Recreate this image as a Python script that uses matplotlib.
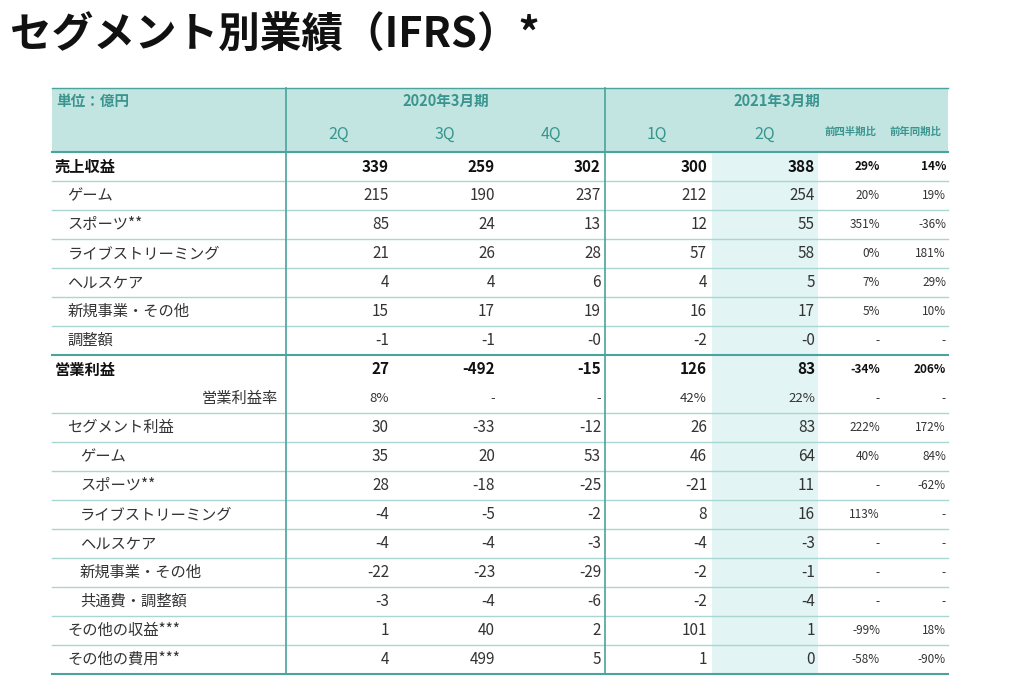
import matplotlib.pyplot as plt
from matplotlib.patches import Rectangle

plt.rcParams["font.family"] = "Noto Sans CJK JP"

title = "セグメント別業績（IFRS）*"
unit = "単位：億円"
periods = ["2020年3月期", "2021年3月期"]
quarters = ["2Q", "3Q", "4Q", "1Q", "2Q"]
ratio_heads = ["前四半期比", "前年同期比"]

labels = ["売上収益", "ゲーム", "スポーツ**", "ライブストリーミング", "ヘルスケア", "新規事業・その他", "調整額",
          "営業利益", "営業利益率", "セグメント利益", "ゲーム", "スポーツ**", "ライブストリーミング",
          "ヘルスケア", "新規事業・その他", "共通費・調整額", "その他の収益***", "その他の費用***"]
indent = [0, 1, 1, 1, 1, 1, 1, 0, -1, 1, 2, 2, 2, 2, 2, 2, 1, 1]
bold = [True] + [False] * 6 + [True] + [False] * 10

values = [
    ["339", "259", "302", "300", "388"],
    ["215", "190", "237", "212", "254"],
    ["85", "24", "13", "12", "55"],
    ["21", "26", "28", "57", "58"],
    ["4", "4", "6", "4", "5"],
    ["15", "17", "19", "16", "17"],
    ["-1", "-1", "-0", "-2", "-0"],
    ["27", "-492", "-15", "126", "83"],
    ["8%", "-", "-", "42%", "22%"],
    ["30", "-33", "-12", "26", "83"],
    ["35", "20", "53", "46", "64"],
    ["28", "-18", "-25", "-21", "11"],
    ["-4", "-5", "-2", "8", "16"],
    ["-4", "-4", "-3", "-4", "-3"],
    ["-22", "-23", "-29", "-2", "-1"],
    ["-3", "-4", "-6", "-2", "-4"],
    ["1", "40", "2", "101", "1"],
    ["4", "499", "5", "1", "0"],
]
qoq = ["29%", "20%", "351%", "0%", "7%", "5%", "-", "-34%", "-", "222%", "40%", "-", "113%", "-", "-", "-", "-99%", "-58%"]
yoy = ["14%", "19%", "-36%", "181%", "29%", "10%", "-", "206%", "-", "172%", "84%", "-62%", "-", "-", "-", "-", "18%", "-90%"]

fig = plt.figure(figsize=(10.17, 6.87), dpi=100)
ax = fig.add_axes([0, 0, 1, 1])
ax.set_xlim(0, 1017)
ax.set_ylim(687, 0)
ax.axis("off")

teal = "#4aa39d"
head_txt = "#3a958f"
line_c = "#a9d6d2"
dark = "#333333"

ax.text(10, 36, title, fontsize=30, fontweight="bold", va="center", ha="left", color="#111111")

# header block
ax.add_patch(Rectangle((52, 88), 896, 63, color="#c2e5e2", lw=0))
x0, x1 = 52, 948
row_h = 29
top = 152
# highlighted column
ax.add_patch(Rectangle((712, top), 106, row_h * len(labels), color="#e2f4f3", lw=0))

ax.plot([x0, x1], [88, 88], color=teal, lw=1)
ax.text(56, 101, unit, fontsize=10.5, fontweight="bold", color=head_txt, va="center")
ax.text(446, 101, periods[0], fontsize=10.5, fontweight="bold", color=head_txt, va="center", ha="center")
ax.text(777, 101, periods[1], fontsize=10.5, fontweight="bold", color=head_txt, va="center", ha="center")
qx = [339, 445, 551, 657, 765]
for x, q in zip(qx, quarters):
    ax.text(x, 134, q, fontsize=11.5, color=head_txt, va="center", ha="center")
ax.text(850, 132, ratio_heads[0], fontsize=7.5, fontweight="bold", color=head_txt, va="center", ha="center")
ax.text(915, 132, ratio_heads[1], fontsize=7.5, fontweight="bold", color=head_txt, va="center", ha="center")

right = [389, 495, 601, 707, 815]
for i, lab in enumerate(labels):
    yc = top + row_h * i + row_h / 2
    w = "bold" if bold[i] else "normal"
    fs = 11
    col = "#111111" if bold[i] else dark
    if indent[i] < 0:
        ax.text(278, yc, lab, fontsize=fs, color=dark, va="center", ha="right")
    else:
        ax.text(55 + 12.5 * indent[i], yc, lab, fontsize=fs, fontweight=w, color=col, va="center", ha="left")
    pct_row = indent[i] < 0
    for x, v in zip(right, values[i]):
        ax.text(x, yc, v, fontsize=9.5 if pct_row else 11, fontweight=w, color=col, va="center", ha="right")
    ax.text(880, yc, qoq[i], fontsize=8.5, fontweight=w, color=col, va="center", ha="right")
    ax.text(946, yc, yoy[i], fontsize=8.5, fontweight=w, color=col, va="center", ha="right")
    # separator under row
    yb = top + row_h * (i + 1)
    if i == 7:
        continue
    if i == 6 or i == len(labels) - 1:
        ax.plot([x0, x1], [yb, yb], color=teal, lw=1.5)
    else:
        ax.plot([x0, x1], [yb, yb], color=line_c, lw=1)

ax.plot([x0, x1], [top, top], color=teal, lw=1.5)
bottom = top + row_h * len(labels)
for xv in [286, 605]:
    ax.plot([xv, xv], [88, bottom], color=teal, lw=1.2)

fig.savefig("out.png", dpi=100)
